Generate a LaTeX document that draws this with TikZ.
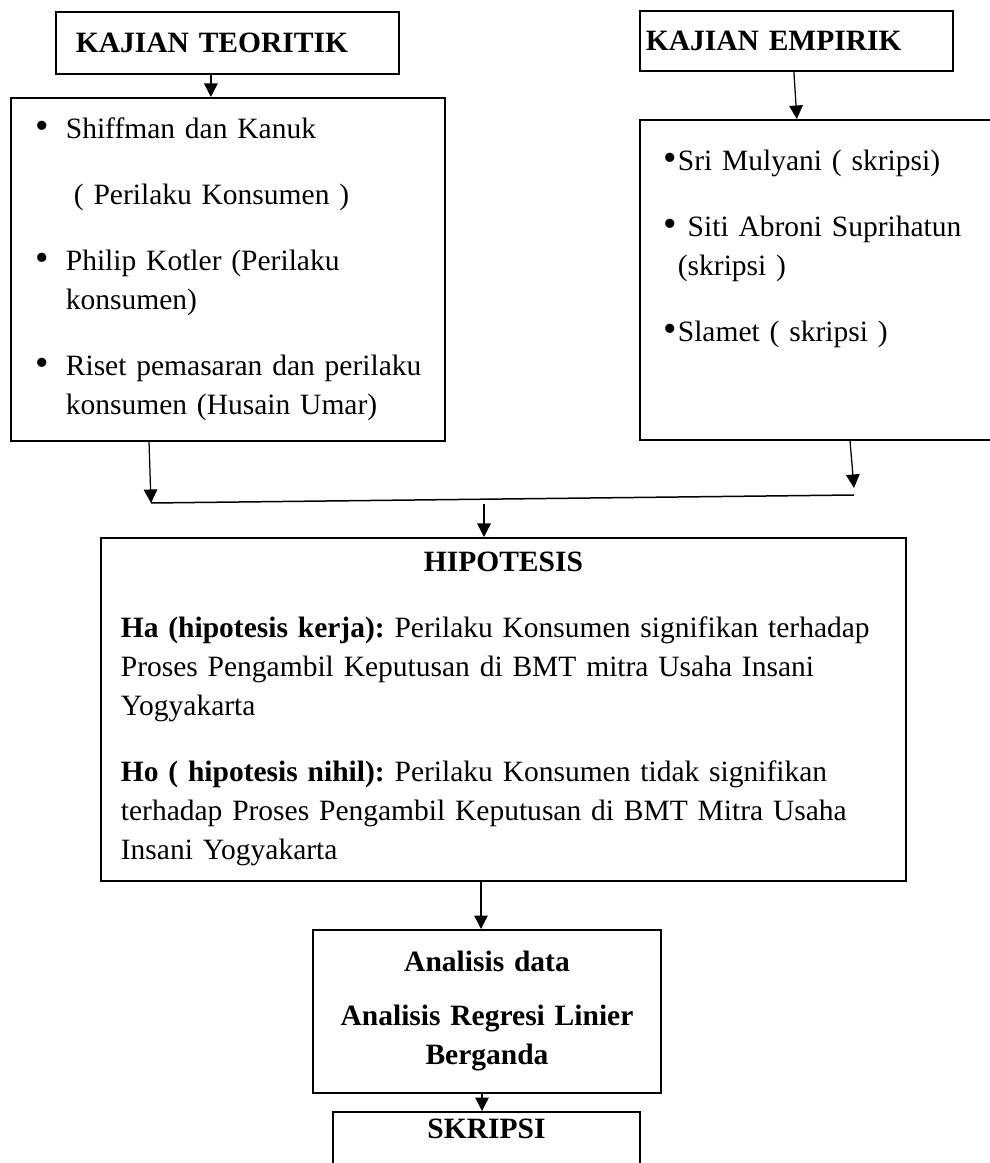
\documentclass[tikz,border=0pt]{standalone}
\usepackage{fontspec}
\setmainfont{Liberation Serif}
\usetikzlibrary{positioning,arrows.meta}
\newcommand{\bodyfont}{\fontsize{11.8}{15.6}\selectfont\frenchspacing}
\newcommand{\bul}{\makebox[12pt][l]{\scalebox{1.3}{\textbullet}}}
\newcommand{\mbul}{\makebox[5.6pt][l]{\scalebox{1.3}{\textbullet}}}
\newcommand{\pgap}{10.8pt}

\begin{document}
\begin{tikzpicture}[x=0.4pt,y=-0.4pt,font=\bodyfont,>={Triangle[length=5.4pt,width=5.4pt]},
   box/.style={draw,line width=0.7pt,inner ysep=0pt},
   hd/.style={box,align=left,anchor=north west,font=\bodyfont\bfseries},
   arr/.style={->,line width=0.5pt},
   ln/.style={line width=0.6pt}]
  \useasboundingbox (0,0) rectangle (990,1163);
  \clip (0,0) rectangle (990,1163);
  \node[hd,minimum height=24.8pt,text width=121.2pt,inner xsep=8pt] (teoriHead) at (55,11) {KAJIAN TEORITIK};
  \node[hd,minimum height=24pt,text width=120.4pt,inner xsep=2.4pt] (empHead) at (639,10) {KAJIAN EMPIRIK};
  \node[box,anchor=north west,align=left,text width=153.6pt,inner xsep=10pt,minimum height=137.2pt] (teoriBox) at (10,97)
     {\bul Shiffman dan Kanuk\\[\pgap]
      \hspace*{15.2pt}( Perilaku Konsumen )\\[\pgap]
      \bul Philip Kotler (Perilaku\\
      \hspace*{12pt}konsumen)\\[\pgap]
      \bul\mbox{Riset pemasaran dan perilaku}\\
      \hspace*{12pt}konsumen (Husain Umar)};
  \node[box,anchor=north west,align=left,text width=129.2pt,inner xsep=9.6pt,minimum height=128pt] (empBox) at (639,119)
     {\mbul Sri Mulyani ( skripsi)\\[\pgap]
      \mbul\ Siti Abroni Suprihatun\\
      \hspace*{5.6pt}(skripsi )\\[\pgap]
      \mbul Slamet ( skripsi )\\[12pt]\mbox{}};
  \node[box,anchor=north west,align=left,text width=306pt,inner xsep=8pt,minimum height=137.2pt] (hipo) at (100,537)
     {\makebox[\linewidth]{\bfseries HIPOTESIS}\\[\pgap]
      \textbf{Ha (hipotesis kerja):} Perilaku Konsumen signifikan terhadap\\
      Proses Pengambil Keputusan di BMT mitra Usaha Insani\\
      Yogyakarta\\[\pgap]
      \textbf{Ho ( hipotesis nihil):} Perilaku Konsumen tidak signifikan\\
      terhadap Proses Pengambil Keputusan di BMT Mitra Usaha\\
      Insani Yogyakarta};
  \node[box,anchor=north,align=center,text width=131.2pt,inner xsep=4pt,minimum height=65.2pt,font=\bodyfont\bfseries] (anal) at (487,929)
     {Analisis data\\[6pt]
      Analisis Regresi Linier\\
      Berganda};
  \node[box,anchor=north,minimum width=122.8pt,inner ysep=2.8pt,text depth=40pt,font=\bodyfont\bfseries] (skripsi) at (486.5,1111) {SKRIPSI};
  \coordinate (mL) at (151,503);
  \coordinate (mR) at (854,495);
  \coordinate (mM) at (484,504);
  \draw[arr] ([xshift=-6.6pt]teoriHead.south) -- ([xshift=-6.6pt]teoriHead.south |- teoriBox.north);
  \draw[arr] ([xshift=-1pt]empHead.south) -- ([xshift=0.2pt]empHead.south |- empBox.north);
  \draw[arr] ([xshift=55.6pt]teoriBox.south west) -- (mL);
  \draw[arr] ([xshift=84.4pt]empBox.south west) -- ([yshift=2.8pt]mR);
  \draw[ln] (mL) -- (mR);
  \draw[arr] (mM) -- (mM |- hipo.north);
  \draw[arr] ([xshift=-2.4pt]anal.north |- hipo.south) -- ([xshift=-2.4pt]anal.north);
  \draw[arr] ([xshift=-2pt]anal.south) -- ([xshift=-2pt]anal.south |- skripsi.north);
\end{tikzpicture}
\end{document}
